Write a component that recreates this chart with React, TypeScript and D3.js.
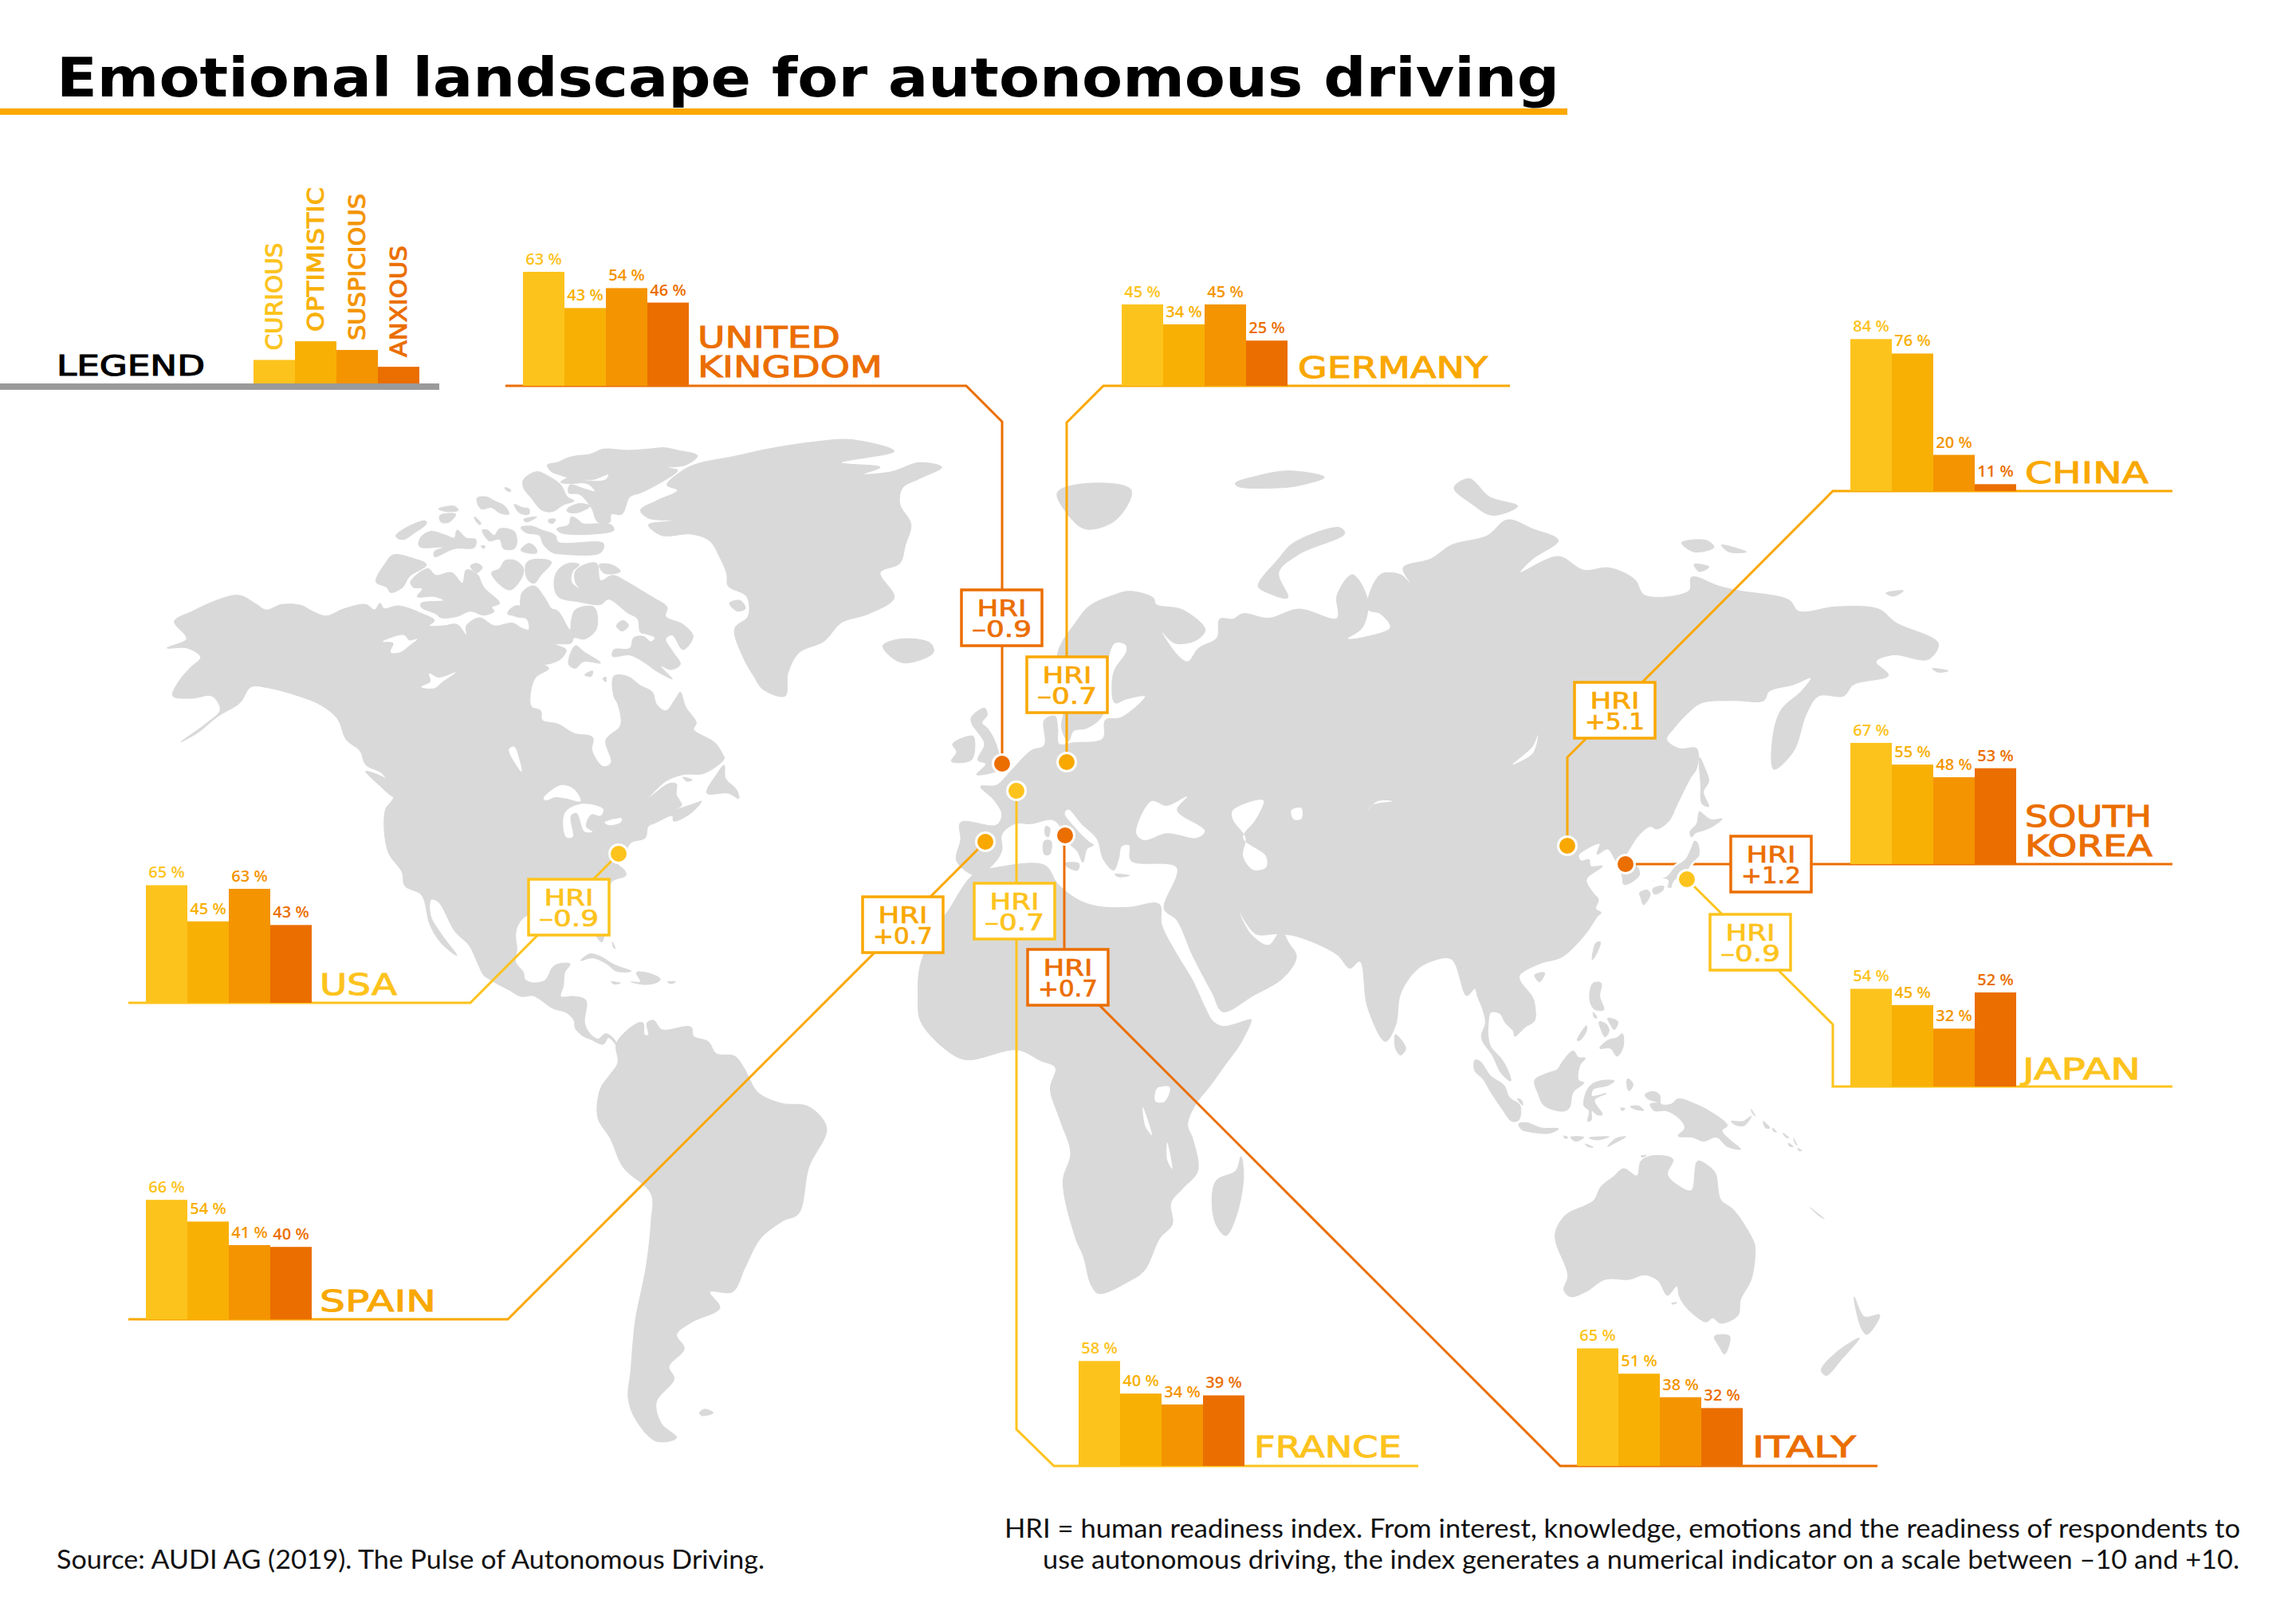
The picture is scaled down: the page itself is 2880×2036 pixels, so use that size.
import React, { useEffect, useRef } from "react";
import * as d3 from "d3";

type Pt = [number, number];

const emotions = ["CURIOUS", "OPTIMISTIC", "SUSPICIOUS", "ANXIOUS"];
const emotionColors = ["#fdc31d", "#f8b005", "#f49400", "#eb6e00"];
const legendValues = [13, 23.3, 18.5, 9.2];

// same order in every list
const countries = ["usa", "uk", "germany", "china", "korea", "japan", "spain", "france", "italy"];
const curious = [65, 63, 45, 84, 67, 54, 66, 58, 65];
const optimistic = [45, 43, 34, 76, 55, 45, 54, 40, 51];
const suspicious = [63, 54, 45, 20, 48, 32, 41, 34, 38];
const anxious = [43, 46, 25, 11, 53, 52, 40, 39, 32];
const hri = ["–0.9", "–0.9", "–0.7", "+5.1", "+1.2", "–0.9", "+0.7", "–0.7", "+0.7"];

// the 11 % bar of China is much shorter than its label in the original
const drawnOverride: Record<string, number> = { "china-3": 3.8 };

const YELLOW = "#fdc31d";
const AMBER = "#f9a800";
const ORANGE = "#eb6e00";
const LAND = "#d9d9d9";

// placement of every country block, kept apart from the values
const layout: Record<string, any> = {
  usa: { color: YELLOW, left: 183, base: 1258, names: [["USA", 401, 1248, 97]], box: [663, 1103],
    leader: [[161, 1258], [590, 1258], [776, 1071]], dot: [776, 1071] },
  uk: { color: ORANGE, left: 656, base: 484, names: [["UNITED", 875, 436, 179], ["KINGDOM", 875, 473, 232]], box: [1206, 740],
    leader: [[634, 484], [1212, 484], [1257, 529], [1257, 958]], dot: [1257, 958] },
  germany: { color: AMBER, left: 1407, base: 484, names: [["GERMANY", 1628, 474, 238]], box: [1288, 824],
    leader: [[1894, 484], [1384, 484], [1338, 530], [1338, 956]], dot: [1338, 956] },
  china: { color: AMBER, left: 2321, base: 616, names: [["CHINA", 2540, 606, 155]], box: [1975, 856],
    leader: [[2725, 616], [2299, 616], [1966, 950], [1966, 1061]], dot: [1966, 1061] },
  korea: { color: ORANGE, left: 2321, base: 1084, names: [["SOUTH", 2540, 1037, 159], ["KOREA", 2540, 1074, 160]], box: [2171, 1049],
    leader: [[2725, 1084], [2039, 1084]], dot: [2039, 1084] },
  japan: { color: YELLOW, left: 2321, base: 1363, names: [["JAPAN", 2537, 1354, 148]], box: [2145, 1147],
    leader: [[2725, 1363], [2299, 1363], [2299, 1285], [2116, 1103]], dot: [2116, 1103] },
  spain: { color: AMBER, left: 183, base: 1655, names: [["SPAIN", 401, 1645, 146]], box: [1082, 1125],
    leader: [[161, 1655], [637, 1655], [1236, 1056]], dot: [1236, 1056] },
  france: { color: YELLOW, left: 1353, base: 1839, names: [["FRANCE", 1573, 1828, 185]], box: [1222, 1108],
    leader: [[1779, 1839], [1322, 1839], [1275, 1793], [1275, 992]], dot: [1275, 992] },
  italy: { color: ORANGE, left: 1978, base: 1839, names: [["ITALY", 2198, 1828, 130]], box: [1289, 1191],
    leader: [[2355, 1839], [1957, 1839], [1335, 1217], [1335, 1048]], dot: [1336, 1048] },
};

// coastlines, traced on grids laid over parts of the picture
const sheet = (x0: number, x1: number, y0: number, y1: number, size = 1568) => {
  const sx = d3.scaleLinear([0, size], [x0, x1]);
  const sy = d3.scaleLinear([0, size], [y0, y1]);
  return (pts: Pt[]): Pt[] => pts.map(([x, y]) => [sx(x), sy(y)]);
};
const A = sheet(150, 1250, 500, 1400);
const B = sheet(1100, 2100, 500, 1400);
const C = sheet(1900, 2880, 500, 1400);
const D = sheet(600, 1600, 1250, 1950);
const E = sheet(1500, 2500, 1250, 1950);
const F = sheet(1150, 1550, 700, 1100, 1200);
const G = sheet(470, 970, 540, 1040, 1500);
const H = sheet(1850, 2300, 1230, 1680, 1350);
const J = sheet(1960, 2260, 950, 1250, 900);
const K = sheet(600, 1050, 1050, 1500, 1350);

const naWest: Pt[] = [[98, 487], [130, 465], [165, 445], [205, 430], [220, 432], [245, 450], [262, 462], [290, 450], [325, 452], [345, 465], [370, 475], [400, 460], [440, 450]];
const naNorth: Pt[] = [[0, 675], [20, 650], [35, 670], [90, 660], [180, 690], [225, 715], [205, 735], [260, 735], [310, 730], [345, 770], [345, 735], [395, 705], [450, 735], [520, 725], [555, 745], [580, 750], [570, 705], [500, 690], [530, 660], [580, 680], [600, 700], [585, 715], [555, 690], [555, 610], [600, 585], [640, 630], [665, 670], [690, 680], [735, 750], [740, 715], [755, 675], [825, 665], [835, 745], [790, 785], [750, 780], [740, 800], [680, 805], [720, 825], [700, 860], [640, 880], [610, 870], [655, 895], [605, 930], [585, 1000], [590, 1040], [625, 1055], [630, 1090], [690, 1105], [750, 1140], [820, 1155], [818, 1205], [860, 1265], [890, 1250], [870, 1165], [925, 1110], [915, 1030], [900, 1000], [900, 925], [950, 925], [1000, 960], [1045, 985], [1060, 1030], [1095, 1055], [1135, 1005], [1150, 985], [1170, 1040], [1210, 1100], [1200, 1125], [1280, 1175], [1310, 1220], [1315, 1235], [1240, 1290], [1160, 1295], [1095, 1320], [1030, 1385], [1105, 1330], [1135, 1330], [1135, 1370], [1155, 1410], [1135, 1425], [1215, 1400], [1230, 1395], [1190, 1440], [1125, 1470], [1120, 1450], [1060, 1475]];
const naEast: Pt[] = [[945, 935], [940, 960], [915, 970]];
const gulf: Pt[] = [[555, 50], [525, 100], [550, 125], [555, 145], [500, 170], [480, 300], [465, 395], [445, 375], [420, 300], [330, 290], [185, 295], [150, 330], [140, 370], [145, 420], [140, 470], [170, 510], [175, 535], [200, 548], [250, 540], [280, 490], [300, 478], [345, 478], [325, 510], [320, 560], [310, 600], [360, 600], [405, 615], [400, 700], [420, 740], [450, 760], [480, 740], [510, 760], [525, 790], [490, 755], [470, 780], [420, 760], [395, 750], [365, 720], [360, 690], [330, 660], [280, 645], [230, 610], [205, 597], [160, 600], [115, 575], [85, 560], [50, 540], [20, 520], [0, 480]];
const naPacific: Pt[] = [[625, 1195], [600, 1165], [570, 1100], [557, 1095], [556, 1130], [575, 1170], [603, 1217], [575, 1190], [555, 1150], [540, 1085], [510, 1065], [505, 1035], [480, 990], [475, 900], [490, 870], [470, 820], [440, 800], [430, 770], [405, 745], [390, 700], [360, 670], [320, 650], [265, 632], [235, 630], [215, 665], [175, 695], [140, 730], [110, 750], [155, 710], [180, 680], [165, 650], [130, 655], [95, 650], [105, 620], [125, 590], [145, 565], [120, 545], [85, 545], [120, 525]];

const greenlandEast: Pt[] = [[1160, 110], [1240, 95], [1310, 90], [1385, 115], [1290, 140], [1360, 150], [1330, 165], [1380, 160], [1430, 140], [1470, 150], [1430, 175], [1400, 195], [1395, 230], [1415, 275], [1405, 320], [1395, 360], [1360, 380], [1385, 435], [1340, 470], [1290, 490], [1260, 530], [1215, 555], [1195, 600], [1190, 650], [1150, 635]];
const greenlandWest: Pt[] = [[1430, 930], [1385, 850], [1355, 745], [1405, 700], [1400, 625], [1330, 585], [1325, 540], [1300, 480], [1260, 415], [1190, 390], [1080, 395], [1030, 355], [1120, 340], [1030, 330], [1000, 300], [1060, 265], [1140, 225], [1100, 205], [1160, 150], [1215, 125], [1350, 98]];
const arctic: Pt[][] = [
  [[650, 130], [690, 120], [720, 105], [760, 95], [810, 90], [860, 70], [950, 75], [1030, 70], [1090, 65], [1140, 75], [1215, 95], [1170, 130], [1100, 140], [1140, 150], [1060, 205], [1000, 235], [960, 250], [930, 315], [890, 315], [885, 345], [840, 345], [815, 290], [770, 240], [730, 235], [735, 205], [790, 220], [830, 230], [800, 200], [730, 200], [700, 195], [740, 175], [800, 190], [870, 185], [880, 165], [820, 185], [740, 180], [690, 165], [665, 155]],
  [[560, 185], [610, 155], [650, 170], [700, 205], [725, 250], [750, 265], [710, 280], [670, 305], [630, 300], [590, 255], [560, 215]],
  [[725, 295], [770, 275], [810, 285], [760, 310], [725, 305]],
  [[385, 255], [420, 250], [450, 265], [490, 285], [505, 315], [470, 310], [440, 290], [400, 295]],
  [[525, 278], [555, 290], [580, 295], [580, 315], [545, 310]],
  [[490, 215], [510, 222], [512, 230], [495, 225]],
  [[240, 295], [300, 285], [315, 300], [270, 305]],
  [[245, 320], [305, 315], [280, 345], [250, 345]],
  [[80, 395], [120, 365], [190, 340], [195, 350], [150, 385], [110, 410], [85, 405]],
  [[175, 400], [210, 380], [270, 395], [300, 405], [310, 375], [345, 405], [380, 410], [375, 440], [300, 445], [225, 475], [225, 455], [260, 440], [175, 440], [165, 430]],
  [[405, 375], [425, 375], [450, 395], [470, 370], [525, 380], [535, 420], [525, 445], [485, 445], [470, 410], [430, 415]],
  [[550, 365], [590, 360], [630, 375], [680, 395], [690, 420], [860, 425], [850, 460], [700, 465], [670, 460], [635, 430], [620, 395], [570, 385]],
  [[685, 370], [730, 355], [740, 325], [770, 340], [780, 350], [890, 355], [900, 375], [820, 390], [700, 385]],
  [[550, 450], [580, 425], [605, 440], [610, 460], [570, 460]],
  [[375, 325], [400, 350], [395, 355], [380, 340]],
  [[655, 335], [680, 335], [670, 350], [655, 345]],
  [[560, 335], [610, 325], [570, 345]],
  [[400, 435], [415, 435], [410, 445]],
  [[5, 570], [40, 500], [70, 468], [140, 480], [195, 505], [130, 550], [105, 590], [60, 610], [45, 590]],
  [[135, 570], [200, 520], [230, 545], [290, 535], [330, 575], [345, 525], [385, 540], [410, 590], [470, 650], [440, 665], [450, 680], [410, 695], [360, 680], [310, 700], [250, 705], [230, 690], [175, 665], [175, 650], [260, 640], [225, 625], [160, 625], [180, 595], [145, 590]],
  [[440, 535], [470, 520], [490, 490], [530, 490], [560, 520], [550, 560], [510, 600], [465, 575]],
  [[570, 500], [600, 485], [665, 495], [625, 545], [600, 575], [575, 560]],
  [[360, 510], [385, 500], [405, 515], [385, 535]],
  [[505, 680], [540, 660], [590, 680], [590, 700], [530, 700]],
  [[675, 570], [690, 525], [730, 500], [770, 505], [745, 530], [740, 570], [770, 595], [755, 570], [755, 530], [790, 505], [835, 500], [850, 565], [895, 545], [950, 570], [1000, 600], [1050, 630], [1100, 665], [1095, 700], [1160, 730], [1198, 775], [1160, 825], [1120, 770], [1095, 785], [1120, 830], [1150, 880], [1115, 900], [1075, 885], [1120, 935], [1060, 905], [1010, 870], [960, 845], [895, 850], [900, 825], [960, 820], [975, 780], [1010, 775], [1040, 795], [1055, 780], [1020, 765], [1000, 760], [990, 710], [950, 685], [880, 635], [850, 655], [770, 645], [690, 625]],
  [[845, 505], [890, 505], [925, 530], [890, 540], [860, 535]],
  [[730, 880], [755, 810], [790, 835], [850, 875], [785, 870], [755, 895]],
  [[790, 920], [820, 905], [815, 925]],
  [[858, 935], [870, 928], [870, 945]],
  [[910, 735], [935, 715], [955, 735], [930, 755]],
  [[1335, 650], [1375, 640], [1395, 670], [1365, 680]],
  [[1250, 1365], [1290, 1290], [1315, 1260], [1320, 1310], [1360, 1350], [1370, 1385], [1330, 1365]],
  [[1160, 1305], [1195, 1315], [1175, 1320]],
];
const iceland: Pt[] = [[1365, 540], [1400, 525], [1450, 535], [1455, 555], [1405, 578], [1380, 565]];
const vancouver: Pt[] = [[440, 815], [480, 835], [490, 870], [460, 840]];
const caribbean: Pt[][] = [
  [[385, 465], [420, 440], [460, 450], [510, 480], [575, 505], [520, 505], [480, 475], [430, 455]],
  [[575, 545], [610, 545], [595, 510], [650, 515], [685, 535], [670, 548], [625, 555]],
  [[500, 545], [535, 550], [510, 553]],
  [[712, 545], [742, 545], [725, 552]],
  [[505, 395], [515, 420], [508, 415]],
];
const southAmericaNorth: Pt[] = [[1000, 870], [965, 825], [895, 815], [865, 770], [810, 750], [800, 715], [690, 725], [660, 690], [635, 700], [640, 745], [625, 745], [620, 700], [600, 700], [520, 775], [525, 850], [495, 895]];
const southAmericaSouth: Pt[] = [[240, 260], [235, 340], [260, 400], [285, 480], [340, 555], [340, 630], [330, 760], [310, 900], [305, 960], [300, 1050], [295, 1130], [310, 1190], [350, 1250], [390, 1240], [360, 1200], [350, 1140], [385, 1075], [375, 1040], [405, 990], [390, 950], [420, 915], [475, 875], [455, 830], [500, 830], [525, 760], [555, 680], [600, 630], [630, 610], [650, 480], [685, 370], [650, 310], [595, 300], [550, 270]];
const falklands: Pt[] = [[435, 1170], [445, 1160], [462, 1170], [440, 1178]];

const britain: Pt[] = [[205, 600], [255, 565], [265, 590], [245, 620], [265, 640], [290, 680], [310, 740], [320, 790], [225, 815], [260, 775], [230, 760], [255, 700], [225, 650], [210, 630]];
const ireland: Pt[] = [[135, 700], [210, 670], [218, 690], [205, 760], [130, 765], [150, 730]];

const europeNorth: Pt[] = [[225, 1195], [150, 1140], [165, 1060], [165, 995], [300, 1005], [320, 965], [290, 910], [240, 860], [300, 855], [355, 800], [430, 725], [480, 705], [480, 610], [520, 595], [530, 640], [535, 700], [590, 695], [700, 680], [710, 610], [770, 600], [860, 520], [790, 530], [745, 545], [735, 470], [745, 420], [790, 350], [785, 325], [745, 320], [715, 400], [700, 590], [640, 640], [590, 650], [570, 690], [545, 640], [555, 560], [530, 360], [600, 240], [650, 180], [740, 140], [800, 125], [890, 150], [900, 175], [1000, 195], [1085, 270], [1050, 310], [970, 320], [920, 275], [985, 370], [1020, 390], [1060, 340], [1130, 300], [1140, 230], [1190, 230]];
const siberia: Pt[] = [[720, 470], [770, 480], [830, 460], [905, 480], [905, 430], [935, 385], [965, 440], [955, 500], [925, 525], [965, 520], [1010, 500], [990, 470], [965, 460], [990, 385], [1030, 385], [1050, 405], [1035, 370], [1090, 350], [1130, 320], [1200, 300], [1240, 265], [1290, 285], [1340, 310], [1290, 350], [1265, 380], [1340, 345], [1390, 375], [1440, 370], [1490, 395], [1510, 430]];
const farEast: Pt[] = [[350, 420], [355, 390], [410, 410], [450, 420], [550, 440], [570, 465], [645, 455], [730, 460], [765, 490], [850, 535], [830, 570], [760, 560], [725, 575], [750, 605], [680, 625], [660, 650], [610, 650], [585, 690], [560, 770], [520, 810], [518, 740], [535, 680], [575, 640], [595, 610], [560, 625], [510, 640], [500, 660], [440, 660], [375, 665], [345, 690], [320, 720], [305, 745], [330, 765], [365, 765]];
const koreaCoast: Pt[] = [[505, 40], [480, 80], [430, 180], [400, 240], [355, 270], [330, 260], [290, 290], [255, 340], [240, 375], [280, 410], [290, 440], [260, 470], [230, 478], [225, 450], [215, 420], [195, 380], [170, 345], [130, 365], [140, 325], [90, 345], [60, 370], [70, 390], [100, 385], [105, 410], [150, 410], [90, 460], [115, 510], [135, 535], [125, 570], [145, 585], [130, 600], [90, 660], [0, 750]];
const southChina: Pt[] = [[50, 1235], [10, 1260]];
const indochina: Pt[] = [[170, 0], [215, 60], [225, 90], [225, 150], [190, 175], [150, 210], [145, 190], [115, 160], [95, 125], [60, 120], [50, 170], [50, 210], [60, 250], [100, 295], [125, 340], [135, 378], [100, 350], [65, 280], [30, 230], [25, 205], [40, 160], [30, 110], [10, 60], [0, 30]];
const southAsia: Pt[] = [[1160, 1305], [1130, 1225], [1090, 1230], [1060, 1250], [1030, 1300], [1020, 1370], [1000, 1405], [965, 1330], [950, 1230], [930, 1245], [905, 1215], [825, 1175], [785, 1170], [745, 1170], [712, 1120], [735, 1170], [770, 1195], [795, 1165], [810, 1190], [825, 1220], [800, 1265], [740, 1305], [680, 1340], [660, 1300], [620, 1215], [590, 1140], [565, 1115], [590, 1025], [500, 1010]];
const europeSouth: Pt[] = [[800, 1080], [770, 1085], [760, 1130], [740, 1175], [700, 1130], [680, 1060], [620, 1000], [570, 945], [555, 960], [590, 1010], [650, 1070], [665, 1080], [640, 1095], [625, 1145], [605, 1105], [560, 1060], [540, 1010], [510, 985], [430, 1000], [370, 1000], [320, 1040], [320, 1100], [290, 1150]];

const africaNorth: Pt[] = [[190, 1040], [235, 1025], [330, 1020], [355, 1060], [395, 1095], [435, 1110], [495, 1112], [555, 1105], [560, 1150], [590, 1215], [620, 1270], [645, 1330], [660, 1360], [680, 1372], [730, 1358]];
const africaSouth: Pt[] = [[1520, 65], [1500, 130], [1470, 190], [1440, 250], [1410, 305], [1395, 360], [1405, 400], [1415, 490], [1385, 540], [1362, 580], [1365, 640], [1340, 680], [1310, 770], [1280, 800], [1220, 835], [1205, 810], [1190, 730], [1175, 680], [1150, 520], [1165, 440], [1145, 350], [1125, 260], [1135, 200], [1105, 180], [1060, 150], [960, 178], [920, 150], [870, 70], [865, 0]];
const africaWest: Pt[] = [[85, 1240], [115, 1160], [140, 1120]];
const madagascar: Pt[] = [[1500, 450], [1505, 510], [1490, 620], [1470, 672], [1448, 630], [1450, 520], [1490, 490]];

const northernIslands: Pt[][] = [
  [[750, 410], [790, 350], [820, 315], [910, 282], [920, 295], [830, 340], [790, 380], [808, 435], [770, 425]],
  [[355, 205], [420, 185], [500, 200], [470, 265], [410, 285], [370, 245]],
  [[705, 185], [745, 170], [810, 158], [880, 172], [830, 190], [790, 195], [710, 192]],
  [[1135, 195], [1165, 175], [1205, 215], [1260, 235], [1210, 255], [1170, 230]],
  [[1020, 1390], [1040, 1420], [1030, 1435], [1020, 1420]],
];
const mediterranean: Pt[][] = [
  [[485, 1010], [500, 1015], [495, 1050], [485, 1045]],
  [[480, 1065], [505, 1065], [500, 1115], [480, 1115]],
  [[555, 1150], [610, 1150], [605, 1175], [570, 1165]],
  [[745, 1190], [800, 1195], [760, 1200]],
];
const pacificNorth: Pt[][] = [
  [[335, 315], [385, 310], [400, 325], [360, 335]],
  [[415, 320], [465, 335], [430, 335]],
  [[360, 362], [390, 368], [370, 378]],
  [[745, 425], [780, 420], [760, 432]],
  [[838, 590], [870, 595], [850, 598]],
];

const honshu: Pt[] = [[495, 310], [512, 320], [518, 370], [490, 400], [470, 430], [420, 470], [410, 495], [392, 490], [395, 465], [360, 460], [315, 488], [340, 460], [390, 445], [420, 410], [460, 380], [480, 340]];
const japanIslands: Pt[][] = [
  [[515, 205], [530, 215], [560, 235], [600, 232], [565, 260], [530, 275], [500, 285], [485, 300], [480, 280], [505, 250]],
  [[340, 495], [380, 485], [378, 500], [345, 515]],
  [[290, 510], [320, 500], [330, 515], [305, 555], [295, 530]],
  [[125, 700], [142, 695], [130, 735], [112, 762]],
  [[515, 0], [535, 40], [550, 90], [530, 130], [550, 185], [525, 175], [520, 100]],
];
const hainan: Pt[] = [[40, 1260], [60, 1255], [50, 1275]];

const seaIslands: Pt[][] = [
  [[0, 300], [20, 305], [60, 360], [110, 395], [130, 440], [170, 470], [165, 525], [140, 530], [100, 480], [60, 420], [30, 370], [0, 340]],
  [[160, 445], [175, 450], [180, 470]],
  [[165, 540], [195, 535], [250, 555], [315, 558], [280, 575], [210, 570], [175, 560]],
  [[335, 585], [350, 590], [340, 595]],
  [[360, 590], [410, 590], [380, 605]],
  [[430, 592], [505, 588], [460, 600]],
  [[415, 615], [445, 628], [425, 625]],
  [[500, 625], [530, 595], [568, 588], [520, 615]],
  [[225, 375], [270, 350], [310, 335], [330, 305], [370, 265], [390, 290], [415, 292], [395, 320], [390, 375], [410, 385], [370, 420], [355, 480], [330, 492], [260, 470], [240, 430]],
  [[410, 470], [430, 400], [470, 378], [525, 378], [500, 395], [445, 410], [440, 435], [495, 425], [450, 450], [480, 505], [460, 505], [440, 490], [438, 525], [425, 530], [430, 490]],
  [[575, 370], [590, 380], [595, 395], [580, 415], [572, 395]],
  [[548, 480], [565, 482], [555, 490]],
  [[585, 475], [615, 472], [635, 488], [605, 485]],
  [[640, 430], [670, 418], [695, 430], [700, 465], [740, 465], [765, 445], [830, 465], [880, 490], [950, 545], [930, 565], [960, 600], [1000, 635], [950, 625], [910, 590], [860, 605], [820, 590], [765, 585], [790, 555], [770, 520], [720, 490], [675, 490], [660, 465], [690, 460], [650, 445]],
  [[965, 530], [1010, 530], [1040, 510], [1015, 545], [985, 545]],
  [[1040, 485], [1055, 510], [1045, 500]],
  [[1085, 530], [1110, 555], [1095, 555]],
  [[1120, 555], [1135, 570], [1125, 568]],
  [[1160, 575], [1182, 592], [1170, 590]],
  [[1200, 595], [1212, 620], [1205, 612]],
  [[1180, 612], [1198, 625], [1185, 624]],
  [[1215, 632], [1230, 640], [1218, 640]],
  [[1262, 855], [1315, 897], [1295, 885]],
  [[445, 10], [475, 10], [470, 60], [485, 110], [450, 108], [432, 70]],
  [[445, 120], [460, 140], [450, 140]],
  [[468, 155], [495, 165], [505, 190], [490, 212], [475, 185]],
  [[500, 142], [538, 155], [525, 185], [510, 165]],
  [[470, 255], [500, 225], [535, 215], [555, 200], [558, 250], [535, 285], [510, 255]],
  [[385, 225], [420, 170], [420, 190], [395, 225]],
  [[625, 660], [645, 658], [630, 665]],
  [[740, 1215], [760, 1212], [748, 1218]],
];
const australia: Pt[] = [[305, 940], [345, 880], [420, 845], [450, 825], [475, 775], [520, 740], [560, 708], [610, 735], [625, 680], [665, 660], [745, 672], [725, 730], [770, 775], [815, 790], [838, 680], [875, 695], [905, 725], [925, 825], [970, 860], [1005, 905], [1050, 985], [1055, 1015], [1040, 1125], [1000, 1200], [990, 1260], [925, 1290], [895, 1270], [870, 1285], [800, 1235], [770, 1190], [760, 1150], [725, 1185], [690, 1130], [640, 1108], [580, 1125], [490, 1125], [420, 1170], [360, 1190], [335, 1165], [350, 1110], [305, 985]];
const tasmania: Pt[] = [[1020, 955], [1050, 955], [1040, 1005], [1030, 985]];
const newZealandNorth: Pt[] = [[1295, 845], [1315, 900], [1345, 895], [1320, 950], [1310, 935], [1300, 890]];
const newZealandSouth: Pt[] = [[1305, 960], [1270, 1020], [1240, 1065], [1230, 1050], [1260, 1000]];

// inland water, painted over the land
const waterCanada: Pt[][] = [
  [[30, 795], [110, 770], [130, 790], [160, 785], [130, 810], [95, 835], [60, 835], [70, 800]],
  [[175, 965], [210, 945], [205, 915], [240, 930], [305, 910], [250, 950], [225, 970]],
  [[505, 1200], [525, 1190], [545, 1240], [553, 1285], [530, 1255]],
  [[635, 1385], [700, 1335], [750, 1350], [775, 1395], [720, 1385], [680, 1380], [645, 1392]],
  [[720, 1530], [715, 1440], [780, 1405], [860, 1425], [850, 1450], [815, 1445], [795, 1490], [820, 1510], [790, 1510], [760, 1440], [738, 1450], [745, 1530]],
  [[865, 1475], [930, 1460], [925, 1475], [880, 1485]],
  [[1235, 1195], [1280, 1172], [1245, 1190]],
];
const waterAsia: Pt[][] = [
  [[510, 950], [540, 880], [570, 890], [610, 870], [590, 900], [645, 945], [630, 960], [570, 950], [525, 965]],
  [[700, 900], [760, 878], [745, 920], [720, 960], [765, 1000], [765, 1025], [740, 1030], [720, 1000], [725, 960], [700, 920]],
  [[1300, 735], [1290, 775], [1250, 800], [1290, 760]],
  [[815, 900], [835, 895], [835, 918], [820, 920]],
  [[965, 900], [985, 880], [1015, 880], [975, 888]],
];
const waterAfrica: Pt[][] = [
  [[1335, 258], [1360, 255], [1350, 295], [1332, 295]],
  [[1307, 310], [1325, 390], [1312, 365]],
  [[1355, 410], [1365, 485], [1355, 460]],
];

const landRings: Pt[][] = [
  [...A(naWest), ...G(naNorth), ...A(naEast), ...K(gulf), ...A(naPacific)],
  [...A(greenlandEast), ...G(greenlandWest)],
  ...arctic.map(G),
  A(iceland),
  A(vancouver),
  ...caribbean.map(K),
  [...K(southAmericaNorth), ...D(southAmericaSouth)],
  D(falklands),
  F(britain),
  F(ireland),
  [...F(europeNorth), ...B(siberia), ...C(farEast), ...J(koreaCoast), ...C(southChina), ...H(indochina), ...B(southAsia), ...F(europeSouth)],
  [...B(africaNorth), ...D(africaSouth), ...B(africaWest)],
  D(madagascar),
  ...northernIslands.map(B),
  ...mediterranean.map(F),
  ...pacificNorth.map(C),
  ...japanIslands.map(J),
  C(hainan),
  ...seaIslands.map(H),
  H(australia),
  E(tasmania),
  E(newZealandNorth),
  E(newZealandSouth),
];
const waterRings: Pt[][] = [...waterCanada.map(G), ...waterAsia.map(B), ...waterAfrica.map(D)];

export default function App() {
  const ref = useRef<SVGSVGElement>(null);

  useEffect(() => {
    const svg = d3.select(ref.current);
    svg.selectAll("*").remove();
    svg.append("rect").attr("width", 2880).attr("height", 2036).attr("fill", "#fff");

    const WIDE = "'DejaVu Sans', sans-serif";
    const BODY = "Lato, sans-serif";

    const wideBase = (g: any, size: number, color: string, stroke: number) =>
      g
        .append("text")
        .attr("font-family", WIDE)
        .attr("font-size", size)
        .attr("fill", color)
        .attr("stroke", color)
        .attr("stroke-width", stroke);

    const wideText = (
      g: any,
      str: string,
      x: number,
      y: number,
      size: number,
      length: number,
      color: string,
      stroke = 0.9
    ) =>
      wideBase(g, size, color, stroke)
        .attr("x", x)
        .attr("y", y)
        .attr("textLength", length)
        .attr("lengthAdjust", "spacingAndGlyphs")
        .text(str);

    // stacked lines stay in one text element, each with its own width
    const wideLines = (
      g: any,
      lines: [string, number, number, number][],
      size: number,
      color: string,
      stroke: number
    ) => {
      const t = wideBase(g, size, color, stroke);
      lines.forEach(([str, x, y, length]) => {
        t.append("tspan")
          .attr("x", x)
          .attr("y", y)
          .attr("textLength", length)
          .attr("lengthAdjust", "spacingAndGlyphs")
          .text(str);
      });
      return t;
    };

    // map
    const ring = d3.line().curve(d3.curveCatmullRomClosed.alpha(0.5));
    const map = svg.append("g");
    map
      .selectAll("path.land")
      .data(landRings)
      .join("path")
      .attr("class", "land")
      .attr("d", (d: Pt[]) => ring(d))
      .attr("fill", LAND)
      .attr("stroke", LAND)
      .attr("stroke-width", 1);
    map
      .selectAll("path.water")
      .data(waterRings)
      .join("path")
      .attr("class", "water")
      .attr("d", (d: Pt[]) => ring(d))
      .attr("fill", "#fff");

    // title
    svg
      .append("text")
      .attr("x", 71)
      .attr("y", 121)
      .attr("font-family", WIDE)
      .attr("font-weight", 700)
      .attr("font-size", 68)
      .attr("textLength", 1885)
      .attr("lengthAdjust", "spacingAndGlyphs")
      .text("Emotional landscape for autonomous driving");
    svg.append("rect").attr("x", 0).attr("y", 136).attr("width", 1966).attr("height", 8).attr("fill", "#fca800");

    const band = d3.scaleBand<number>().domain([0, 1, 2, 3]).range([0, 208]);
    const height = d3.scaleLinear().domain([0, 100]).range([0, 227]);

    // legend
    const legend = svg.append("g");
    legend.append("rect").attr("x", 0).attr("y", 481).attr("width", 551).attr("height", 8).attr("fill", "#9a9a9a");
    wideText(legend, "LEGEND", 71, 471, 36, 186, "#000", 1.2);
    const legendLabelLength = [135, 181, 184, 140];
    legendValues.forEach((v, i) => {
      const x = 318 + (band(i) as number);
      legend
        .append("rect")
        .attr("x", x)
        .attr("y", 481 - height(v))
        .attr("width", band.bandwidth())
        .attr("height", height(v))
        .attr("fill", emotionColors[i]);
      const lx = x + band.bandwidth() / 2 + 10;
      const ly = 481 - height(v) - 12;
      wideText(legend, emotions[i], 0, 0, 28, legendLabelLength[i], emotionColors[i], 1).attr(
        "transform",
        `translate(${lx},${ly}) rotate(-90)`
      );
    });

    const leaderLine = d3.line();
    const series = [curious, optimistic, suspicious, anxious];

    countries.forEach((name, c) => {
      const spot = layout[name];
      const g = svg.append("g");

      g.append("path")
        .attr("d", leaderLine(spot.leader))
        .attr("fill", "none")
        .attr("stroke", spot.color)
        .attr("stroke-width", 3);

      series.forEach((values, i) => {
        const v = values[c];
        const drawn = drawnOverride[`${name}-${i}`] ?? v;
        const x = spot.left + (band(i) as number);
        g.append("rect")
          .attr("x", x)
          .attr("y", spot.base - height(drawn))
          .attr("width", band.bandwidth())
          .attr("height", height(drawn))
          .attr("fill", emotionColors[i]);
        g.append("text")
          .attr("x", x + band.bandwidth() / 2)
          .attr("y", spot.base - height(drawn) - 9)
          .attr("text-anchor", "middle")
          .attr("font-family", "'Open Sans', sans-serif")
          .attr("font-weight", 600)
          .attr("font-size", 20)
          .attr("fill", emotionColors[i])
          .text(`${v} %`);
      });

      wideLines(g, spot.names, 37.5, spot.color, 1);
    });

    // the Korea leader runs behind Honshu in the original
    svg
      .append("path")
      .attr("d", ring(J(honshu)))
      .attr("fill", LAND)
      .attr("stroke", "#fff")
      .attr("stroke-width", 2.5);

    // boxes and dots go over all the leaders
    countries.forEach((name, c) => {
      const spot = layout[name];
      const [bx, by] = spot.box;
      const g = svg.append("g");
      g.append("rect")
        .attr("x", bx)
        .attr("y", by)
        .attr("width", 101)
        .attr("height", 70)
        .attr("fill", "#fff")
        .attr("stroke", spot.color)
        .attr("stroke-width", 3.5);
      wideLines(
        g,
        [
          ["HRI", bx + 50.5 - 31, by + 33, 62],
          [hri[c], bx + 50.5 - 37.5, by + 59, 75],
        ],
        27.5,
        spot.color,
        0.7
      );
      g.append("circle")
        .attr("cx", spot.dot[0])
        .attr("cy", spot.dot[1])
        .attr("r", 11.5)
        .attr("fill", spot.color)
        .attr("stroke", "#fff")
        .attr("stroke-width", 3);
    });

    // notes
    const note = (str: string, x: number, y: number, length: number) =>
      svg
        .append("text")
        .attr("x", x)
        .attr("y", y)
        .attr("font-family", BODY)
        .attr("font-size", 33.5)
        .attr("textLength", length)
        .attr("lengthAdjust", "spacingAndGlyphs")
        .attr("fill", "#111")
        .text(str);
    note("Source: AUDI AG (2019). The Pulse of Autonomous Driving.", 71, 1968, 888);
    note(
      "HRI = human readiness index. From interest, knowledge, emotions and the readiness of respondents to",
      1260,
      1929,
      1550
    );
    note(
      "use autonomous driving, the index generates a numerical indicator on a scale between –10 and +10.",
      1308,
      1968,
      1501
    );
  }, []);

  return (
    <svg
      ref={ref}
      width={2880}
      height={2036}
      viewBox="0 0 2880 2036"
      style={{ position: "absolute", left: 0, top: 0, display: "block" }}
    />
  );
}
